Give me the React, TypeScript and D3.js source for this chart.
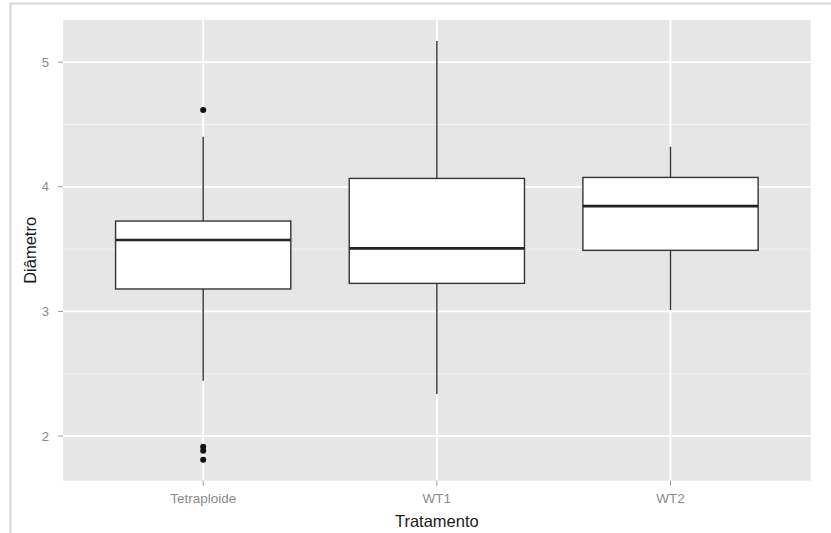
import * as d3 from 'd3';
import { useEffect, useRef } from 'react';

// dados
const categorias = ['Tetraploide', 'WT1', 'WT2'];
const q1 = [3.18, 3.225, 3.49];
const mediana = [3.573, 3.506, 3.845];
const q3 = [3.725, 4.067, 4.075];
const bigodeMin = [2.444, 2.338, 3.011];
const bigodeMax = [4.401, 5.17, 4.321];
const outliers = [
  { cat: 'Tetraploide', v: 4.615 },
  { cat: 'Tetraploide', v: 1.915 },
  { cat: 'Tetraploide', v: 1.883 },
  { cat: 'Tetraploide', v: 1.81 },
];
const yTicks = [2, 3, 4, 5];
const yMinor = [2.5, 3.5, 4.5];

const App = () => {
  const ref = useRef<SVGSVGElement>(null);

  const W = 831;
  const H = 533;
  const margin = { top: 20, left: 63 };
  const pw = 810.7 - margin.left;
  const ph = 480.7 - margin.top;

  useEffect(() => {
    const svg = d3.select(ref.current);
    svg.selectAll('*').remove();

    // moldura da imagem
    svg.append('rect').attr('width', W).attr('height', H).attr('fill', '#fff');
    svg.append('rect')
      .attr('x', 10.5).attr('y', 3.5)
      .attr('width', 840).attr('height', 540)
      .attr('fill', 'none').attr('stroke', '#d6d6d6').attr('stroke-width', 2);

    // escala y com expansão de 5% (como no ggplot)
    const allVals = [...bigodeMin, ...bigodeMax, ...outliers.map(d => d.v)];
    const [lo, hi] = d3.extent(allVals) as [number, number];
    const pad = (hi - lo) * 0.05;
    const y = d3.scaleLinear().domain([lo - pad, hi + pad]).range([ph, 0]);

    // eixo discreto: expansão de 0.6 de cada lado
    const x = d3.scalePoint()
      .domain(categorias)
      .range([0, pw])
      .padding(0.6);
    const step = x.step();
    const cx = (c: string) => x(c) as number;
    const boxW = 0.75 * step;

    const g = svg.append('g').attr('transform', `translate(${margin.left},${margin.top})`);

    g.append('rect').attr('width', pw).attr('height', ph).attr('fill', '#e6e6e6');

    // grade
    g.selectAll('.minor').data(yMinor).enter().append('line')
      .attr('x1', 0).attr('x2', pw)
      .attr('y1', d => y(d)).attr('y2', d => y(d))
      .attr('stroke', '#f4f4f4').attr('stroke-width', 0.9);
    g.selectAll('.major').data(yTicks).enter().append('line')
      .attr('x1', 0).attr('x2', pw)
      .attr('y1', d => y(d)).attr('y2', d => y(d))
      .attr('stroke', '#fff').attr('stroke-width', 1.8);
    g.selectAll('.vmajor').data(categorias).enter().append('line')
      .attr('x1', d => cx(d)).attr('x2', d => cx(d))
      .attr('y1', 0).attr('y2', ph)
      .attr('stroke', '#fff').attr('stroke-width', 1.8);

    const line = '#333';
    const boxes = categorias.map((c, i) => ({
      c, q1: q1[i], med: mediana[i], q3: q3[i], lo: bigodeMin[i], hi: bigodeMax[i],
    }));

    const bx = g.selectAll('.box').data(boxes).enter().append('g');
    bx.append('line')
      .attr('x1', d => cx(d.c)).attr('x2', d => cx(d.c))
      .attr('y1', d => y(d.hi)).attr('y2', d => y(d.q3))
      .attr('stroke', line).attr('stroke-width', 1.4);
    bx.append('line')
      .attr('x1', d => cx(d.c)).attr('x2', d => cx(d.c))
      .attr('y1', d => y(d.q1)).attr('y2', d => y(d.lo))
      .attr('stroke', line).attr('stroke-width', 1.4);
    bx.append('rect')
      .attr('x', d => cx(d.c) - boxW / 2)
      .attr('y', d => y(d.q3))
      .attr('width', boxW)
      .attr('height', d => y(d.q1) - y(d.q3))
      .attr('fill', '#fff').attr('stroke', line).attr('stroke-width', 1.4);
    bx.append('line')
      .attr('x1', d => cx(d.c) - boxW / 2).attr('x2', d => cx(d.c) + boxW / 2)
      .attr('y1', d => y(d.med)).attr('y2', d => y(d.med))
      .attr('stroke', '#222').attr('stroke-width', 2.6);

    g.selectAll('.out').data(outliers).enter().append('circle')
      .attr('cx', d => cx(d.cat)).attr('cy', d => y(d.v))
      .attr('r', 3).attr('fill', '#111');

    // eixos
    const font = 'Liberation Sans, Arial, sans-serif';
    const yAx = g.append('g');
    yAx.selectAll('line').data(yTicks).enter().append('line')
      .attr('x1', -5).attr('x2', 0)
      .attr('y1', d => y(d)).attr('y2', d => y(d))
      .attr('stroke', '#999').attr('stroke-width', 1);
    yAx.selectAll('text').data(yTicks).enter().append('text')
      .attr('x', -14).attr('y', d => y(d))
      .attr('dy', '0.35em').attr('text-anchor', 'end')
      .style('font-family', font).style('font-size', '13px').attr('fill', '#8a8a8a')
      .text(d => d);

    const xAx = g.append('g').attr('transform', `translate(0,${ph})`);
    xAx.selectAll('line').data(categorias).enter().append('line')
      .attr('x1', d => cx(d)).attr('x2', d => cx(d))
      .attr('y1', 0).attr('y2', 5)
      .attr('stroke', '#999').attr('stroke-width', 1);
    xAx.selectAll('text').data(categorias).enter().append('text')
      .attr('x', d => cx(d)).attr('y', 22)
      .attr('text-anchor', 'middle')
      .style('font-family', font).style('font-size', '13.5px').attr('fill', '#8a8a8a')
      .text(d => d);

    svg.append('text')
      .attr('x', margin.left + pw / 2).attr('y', 527)
      .attr('text-anchor', 'middle')
      .style('font-family', font).style('font-size', '16.5px').attr('fill', '#1a1a1a')
      .text('Tratamento');

    svg.append('text')
      .attr('transform', `translate(36,${margin.top + ph / 2}) rotate(-90)`)
      .attr('text-anchor', 'middle')
      .style('font-family', font).style('font-size', '16.5px').attr('fill', '#1a1a1a')
      .text('Diâmetro');
  }, []);

  return (
    <svg ref={ref} width={W} height={H}
      style={{ position: 'absolute', left: 0, top: 0, display: 'block' }} />
  );
};

export default App;
